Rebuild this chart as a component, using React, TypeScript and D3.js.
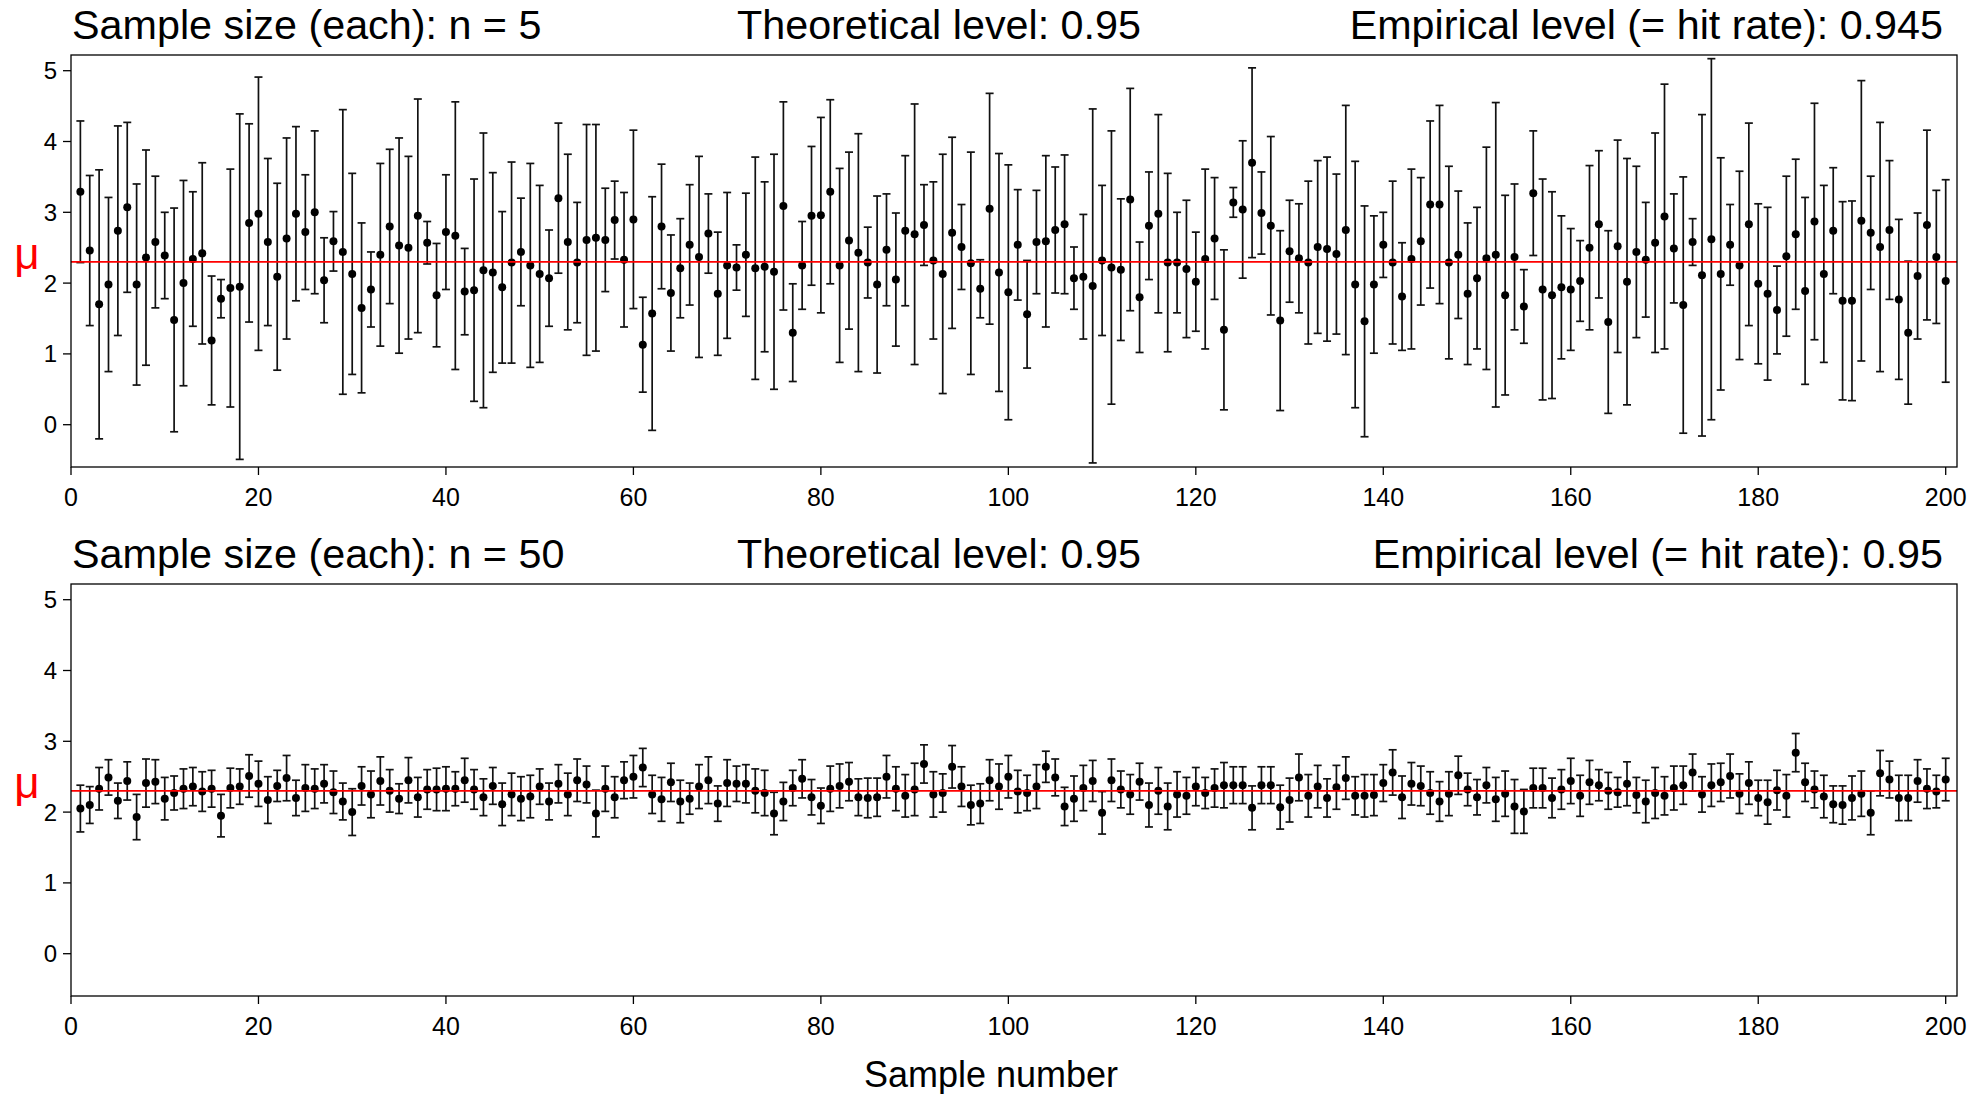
import React from "react";
import * as d3 from "d3";

// sample means and CI half-widths (n = 5, top panel)
const meansN5 = [
  3.29, 2.46, 1.7, 1.98, 2.74, 3.07, 1.98, 2.36, 2.58, 2.39,
  1.48, 2.0, 2.34, 2.42, 1.19, 1.78, 1.93, 1.95, 2.85, 2.98,
  2.58, 2.09, 2.63, 2.98, 2.72, 3.0, 2.04, 2.59, 2.44, 2.13,
  1.65, 1.91, 2.4, 2.8, 2.53, 2.5, 2.95, 2.57, 1.83, 2.72,
  2.67, 1.88, 1.9, 2.18, 2.15, 1.94, 2.29, 2.44, 2.25, 2.13,
  2.07, 3.2, 2.58, 2.29, 2.61, 2.64, 2.61, 2.89, 2.33, 2.9,
  1.13, 1.57, 2.8, 1.86, 2.21, 2.54, 2.37, 2.7, 1.85, 2.25,
  2.22, 2.4, 2.21, 2.23, 2.16, 3.09, 1.3, 2.25, 2.95, 2.96,
  3.29, 2.25, 2.6, 2.43, 2.29, 1.98, 2.47, 2.05, 2.74, 2.69,
  2.82, 2.32, 2.13, 2.71, 2.51, 2.28, 1.92, 3.05, 2.15, 1.87,
  2.54, 1.56, 2.58, 2.59, 2.75, 2.83, 2.07, 2.09, 1.96, 2.32,
  2.22, 2.19, 3.18, 1.8, 2.81, 2.98, 2.29, 2.29, 2.2, 2.02,
  2.34, 2.63, 1.34, 3.14, 3.04, 3.7, 2.99, 2.81, 1.47, 2.45,
  2.35, 2.29, 2.51, 2.48, 2.41, 2.75, 1.98, 1.46, 1.98, 2.54,
  2.29, 1.81, 2.34, 2.59, 3.11, 3.11, 2.29, 2.4, 1.85, 2.07,
  2.35, 2.4, 1.83, 2.37, 1.67, 3.27, 1.91, 1.83, 1.94, 1.91,
  2.03, 2.5, 2.83, 1.45, 2.52, 2.02, 2.44, 2.33, 2.57, 2.94,
  2.49, 1.69, 2.58, 2.11, 2.62, 2.13, 2.54, 2.25, 2.83, 1.99,
  1.85, 1.62, 2.38, 2.69, 1.89, 2.87, 2.13, 2.74, 1.75, 1.75,
  2.88, 2.71, 2.51, 2.75, 1.77, 1.3, 2.1, 2.82, 2.37, 2.03
];
const halfN5 = [
  1.0, 1.06, 1.9, 1.23, 1.48, 1.2, 1.42, 1.52, 0.93, 0.61,
  1.58, 1.45, 0.95, 1.28, 0.91, 0.27, 1.68, 2.44, 1.4, 1.93,
  1.18, 1.32, 1.42, 1.23, 0.81, 1.15, 0.6, 0.42, 2.01, 1.42,
  1.2, 0.53, 1.29, 1.09, 1.52, 1.29, 1.65, 0.3, 0.73, 0.81,
  1.89, 0.61, 1.57, 1.94, 1.41, 1.07, 1.42, 0.76, 1.44, 1.25,
  0.68, 1.06, 1.24, 0.85, 1.63, 1.6, 0.73, 0.55, 0.95, 1.26,
  0.67, 1.65, 0.88, 0.82, 0.7, 0.85, 1.42, 0.56, 0.87, 1.03,
  0.32, 0.87, 1.57, 1.2, 1.66, 1.47, 0.69, 0.62, 0.98, 1.38,
  1.3, 1.37, 1.25, 1.68, 0.5, 1.25, 0.79, 0.94, 1.06, 1.84,
  0.57, 1.11, 1.69, 1.35, 0.6, 1.57, 0.41, 1.63, 1.68, 1.8,
  0.78, 0.76, 0.73, 1.21, 0.89, 0.98, 0.44, 0.88, 2.5, 1.06,
  1.93, 1.0, 1.57, 0.78, 0.76, 1.4, 1.26, 0.71, 0.97, 0.7,
  1.27, 0.86, 1.13, 0.21, 0.97, 1.34, 0.58, 1.26, 1.27, 0.72,
  0.77, 1.15, 1.22, 1.3, 1.13, 1.76, 1.74, 1.63, 0.97, 0.46,
  1.15, 0.76, 1.27, 0.9, 1.18, 1.4, 1.36, 0.9, 1.0, 1.0,
  1.57, 2.15, 1.41, 1.03, 0.52, 0.88, 1.56, 1.46, 1.01, 0.86,
  0.57, 1.16, 1.04, 1.29, 1.5, 1.74, 1.21, 0.81, 1.55, 1.87,
  0.77, 1.81, 0.33, 2.27, 2.55, 1.64, 0.57, 1.33, 1.43, 1.13,
  1.22, 0.62, 1.13, 1.06, 1.32, 1.67, 1.25, 0.89, 1.4, 1.41,
  1.98, 0.8, 1.76, 0.98, 1.13, 1.01, 0.89, 1.34, 0.94, 1.43
];

// n = 50, bottom panel
const meansN50 = [
  2.05, 2.1, 2.33, 2.49, 2.16, 2.44, 1.93, 2.41, 2.43, 2.19,
  2.27, 2.33, 2.36, 2.29, 2.33, 1.95, 2.34, 2.36, 2.51, 2.4,
  2.17, 2.37, 2.48, 2.2, 2.34, 2.33, 2.4, 2.28, 2.15, 2.0,
  2.37, 2.25, 2.44, 2.3, 2.19, 2.45, 2.21, 2.32, 2.32, 2.33,
  2.33, 2.45, 2.32, 2.21, 2.37, 2.11, 2.25, 2.19, 2.22, 2.36,
  2.15, 2.4, 2.25, 2.45, 2.39, 1.98, 2.33, 2.21, 2.45, 2.5,
  2.63, 2.25, 2.18, 2.42, 2.15, 2.19, 2.36, 2.45, 2.12, 2.41,
  2.4, 2.4, 2.3, 2.27, 1.98, 2.15, 2.34, 2.47, 2.21, 2.09,
  2.33, 2.37, 2.43, 2.21, 2.2, 2.21, 2.5, 2.33, 2.23, 2.32,
  2.68, 2.25, 2.27, 2.64, 2.36, 2.1, 2.12, 2.45, 2.36, 2.5,
  2.29, 2.27, 2.36, 2.64, 2.49, 2.08, 2.19, 2.34, 2.44, 1.99,
  2.45, 2.32, 2.25, 2.43, 2.1, 2.3, 2.08, 2.25, 2.23, 2.36,
  2.27, 2.34, 2.38, 2.38, 2.38, 2.06, 2.38, 2.38, 2.07, 2.17,
  2.49, 2.23, 2.36, 2.2, 2.35, 2.48, 2.23, 2.23, 2.24, 2.41,
  2.56, 2.21, 2.4, 2.37, 2.27, 2.15, 2.26, 2.52, 2.32, 2.21,
  2.38, 2.18, 2.26, 2.08, 2.01, 2.34, 2.34, 2.2, 2.32, 2.44,
  2.23, 2.42, 2.38, 2.3, 2.28, 2.4, 2.24, 2.15, 2.27, 2.23,
  2.34, 2.38, 2.56, 2.25, 2.38, 2.42, 2.51, 2.26, 2.41, 2.2,
  2.14, 2.31, 2.23, 2.84, 2.42, 2.32, 2.22, 2.11, 2.1, 2.2,
  2.26, 1.99, 2.55, 2.46, 2.2, 2.2, 2.44, 2.33, 2.29, 2.46
];
const halfN50 = [
  0.33, 0.26, 0.3, 0.25, 0.25, 0.27, 0.32, 0.34, 0.31, 0.3,
  0.24, 0.28, 0.27, 0.28, 0.26, 0.3, 0.28, 0.25, 0.3, 0.32,
  0.33, 0.22, 0.32, 0.25, 0.33, 0.28, 0.27, 0.3, 0.26, 0.33,
  0.27, 0.33, 0.34, 0.3, 0.21, 0.32, 0.28, 0.28, 0.3, 0.31,
  0.24, 0.31, 0.28, 0.26, 0.26, 0.3, 0.3, 0.31, 0.3, 0.25,
  0.26, 0.27, 0.3, 0.3, 0.26, 0.33, 0.32, 0.29, 0.26, 0.3,
  0.27, 0.27, 0.31, 0.27, 0.3, 0.22, 0.31, 0.33, 0.25, 0.33,
  0.25, 0.27, 0.31, 0.32, 0.3, 0.27, 0.25, 0.27, 0.25, 0.25,
  0.32, 0.31, 0.27, 0.26, 0.28, 0.27, 0.3, 0.31, 0.3, 0.37,
  0.27, 0.32, 0.27, 0.3, 0.28, 0.28, 0.28, 0.29, 0.32, 0.3,
  0.3, 0.25, 0.31, 0.22, 0.26, 0.27, 0.32, 0.32, 0.29, 0.3,
  0.3, 0.26, 0.28, 0.26, 0.31, 0.33, 0.33, 0.32, 0.26, 0.27,
  0.22, 0.27, 0.32, 0.26, 0.26, 0.31, 0.26, 0.26, 0.31, 0.31,
  0.33, 0.3, 0.3, 0.27, 0.31, 0.3, 0.27, 0.3, 0.29, 0.26,
  0.32, 0.3, 0.3, 0.28, 0.3, 0.28, 0.31, 0.27, 0.23, 0.25,
  0.25, 0.31, 0.32, 0.38, 0.31, 0.28, 0.28, 0.28, 0.28, 0.32,
  0.29, 0.31, 0.22, 0.26, 0.21, 0.31, 0.25, 0.3, 0.36, 0.27,
  0.31, 0.27, 0.26, 0.25, 0.3, 0.27, 0.31, 0.28, 0.3, 0.25,
  0.31, 0.28, 0.3, 0.27, 0.27, 0.26, 0.3, 0.26, 0.27, 0.31,
  0.32, 0.31, 0.32, 0.26, 0.32, 0.32, 0.3, 0.28, 0.23, 0.3
];

const mu = 2.3;
const xTicks = [0, 20, 40, 60, 80, 100, 120, 140, 160, 180, 200];
const yTicks = [0, 1, 2, 3, 4, 5];
const titlesN5 = ["Sample size (each): n = 5", "Theoretical level: 0.95", "Empirical level (= hit rate): 0.945"];
const titlesN50 = ["Sample size (each): n = 50", "Theoretical level: 0.95", "Empirical level (= hit rate): 0.95"];

const W = 1977;
const H = 1094;
const font = "'Liberation Sans', Arial, sans-serif";
const boxLeft = 71;
const boxRight = 1957;
const boxH = 412;

const xScale = d3.scaleLinear().domain([0, 200]).range([71, 1945.7]);

function Panel(props) {
  const { means, halves, titles, top } = props;
  const bottom = top + boxH;
  // 5 sits 15.7px under the box top, 70.8px per unit
  const yScale = d3.scaleLinear().domain([0, 5]).range([top + 15.7 + 5 * 70.8, top + 15.7]);
  const cap = 4;

  return (
    <g>
      <text x={72} y={top - 16} fontSize={41.3} fontFamily={font}>{titles[0]}</text>
      <text x={939} y={top - 16} fontSize={41.3} fontFamily={font} textAnchor="middle">{titles[1]}</text>
      <text x={1943} y={top - 16} fontSize={41.3} fontFamily={font} textAnchor="end">{titles[2]}</text>

      {/* y axis */}
      {yTicks.map(t => (
        <g key={"y" + t}>
          <line x1={boxLeft - 8} x2={boxLeft} y1={yScale(t)} y2={yScale(t)} stroke="#000" strokeWidth={1.3} />
          <text x={57} y={yScale(t)} dy="0.35em" fontSize={24} fontFamily={font} textAnchor="end">{t}</text>
        </g>
      ))}
      {/* x axis */}
      {xTicks.map(t => (
        <g key={"x" + t}>
          <line x1={xScale(t)} x2={xScale(t)} y1={bottom} y2={bottom + 8} stroke="#000" strokeWidth={1.3} />
          <text x={xScale(t)} y={bottom + 39} fontSize={25} fontFamily={font} textAnchor="middle">{t}</text>
        </g>
      ))}

      <g className="bars">
        {means.map((m, i) => {
          const x = xScale(i + 1);
          const lo = yScale(m - halves[i]);
          const hi = yScale(m + halves[i]);
          return (
            <g key={i} stroke="#111" strokeWidth={1.7}>
              <line x1={x} x2={x} y1={lo} y2={hi} />
              <line x1={x - cap} x2={x + cap} y1={lo} y2={lo} />
              <line x1={x - cap} x2={x + cap} y1={hi} y2={hi} />
            </g>
          );
        })}
        {means.map((m, i) => (
          <circle key={"p" + i} cx={xScale(i + 1)} cy={yScale(m)} r={4} fill="#000" />
        ))}
      </g>

      <line x1={boxLeft} x2={boxRight} y1={yScale(mu)} y2={yScale(mu)} stroke="#ff0000" strokeWidth={1.6} />
      <text x={27} y={yScale(mu) + 7} fontSize={44} fontFamily={font} fill="#ff0000" textAnchor="middle">μ</text>

      <rect x={boxLeft} y={top} width={boxRight - boxLeft} height={boxH} fill="none" stroke="#000" strokeWidth={1.3} />
    </g>
  );
}

export default function App() {
  return (
    <svg width={W} height={H} style={{ position: "absolute", left: 0, top: 0, background: "#fff" }}>
      <rect width={W} height={H} fill="#fff" />
      <Panel means={meansN5} halves={halfN5} titles={titlesN5} top={55} />
      <Panel means={meansN50} halves={halfN50} titles={titlesN50} top={584} />
      <text x={991} y={1087} fontSize={36} fontFamily={font} textAnchor="middle">Sample number</text>
    </svg>
  );
}
